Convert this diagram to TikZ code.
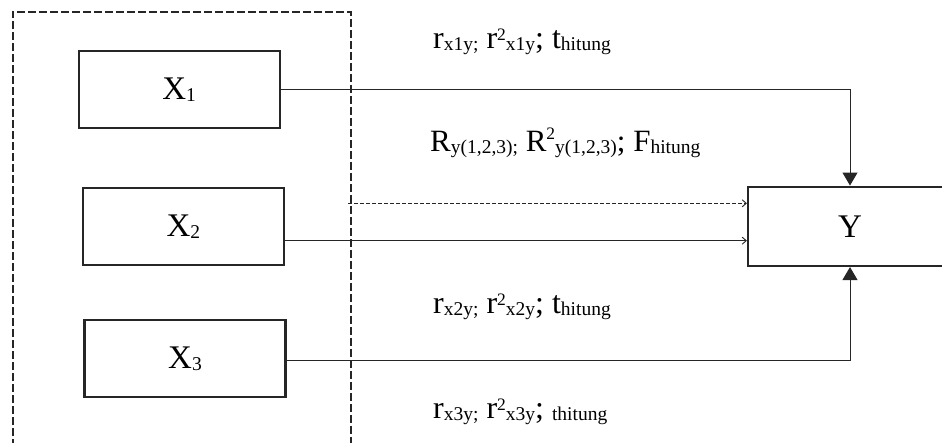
\documentclass[tikz,border=0pt]{standalone}
\usepackage{fontspec}
\setmainfont{Liberation Serif}
\usetikzlibrary{arrows.meta,calc}
\newcommand\lsub[1]{\raisebox{-2pt}{\fontsize{19.5}{19.5}\selectfont #1}}
\newcommand\lsup[2]{\raisebox{#1}{\fontsize{17.5}{17.5}\selectfont #2}}
\newcommand\mainsz{\fontsize{32}{32}\selectfont}
\begin{document}
\begin{tikzpicture}[x=1pt,y=1pt,
  varbox/.style={draw=black!85, line width=2.2pt, minimum width=201pt, minimum height=77pt, inner sep=0pt, font=\fontsize{33}{33}\selectfont},
  conn/.style={line width=1pt, draw=black!85},
  bigtip/.style={-{Triangle[width=15pt,length=13pt]}},
  smalltip/.style={-{Straight Barb[length=4pt,width=7pt,line width=0.9pt]}},
  lbl/.style={anchor=base west, inner sep=0pt}
]
\useasboundingbox (0,0) rectangle (942,442);
% dashed frame
\coordinate (fbl) at (12.7,-5);
\coordinate (ftl) at (12.7,430.3);
\coordinate (ftr) at (350.7,430.3);
\coordinate (fbr) at (350.7,-5);
\draw[line width=1.8pt, draw=black!85, dash pattern=on 8pt off 3pt] (fbl) -- (ftl) -- (ftr) -- (fbr);
% boxes
\node[varbox] (X1) at (179.2,352.8) {X\lsub{1}};
\node[varbox] (X2) at (183.3,215.5) {X\lsub{2}};
\node[varbox] (X3) at (185,83.3) {X\lsub{3}};
\node[varbox, minimum width=204pt, minimum height=79.3pt] (Y) at (850,215.7) {Y};
% connectors
\draw[conn,bigtip] (X1.east) -| (Y.north);
\draw[conn,bigtip] ([yshift=-1.3pt]X3.east) -| (Y.south);
\draw[conn,smalltip] ([yshift=-14.2pt]X2.east) -- ([yshift=-14.2pt]X2.east -| Y.west);
\coordinate (dstart) at (348,238.7);
\draw[line width=1pt, draw=black!85, dash pattern=on 4pt off 2pt, smalltip] (dstart) -- (dstart -| Y.west);
% labels
\node[lbl] (l1) at (433,393.7) {\mainsz r\lsub{x1y;} r\lsup{7.7pt}{2}\lsub{x1y};\ t\lsub{hitung}};
\node[lbl] (l2) at (430,290.3) {\fontsize{31}{31}\selectfont R\lsub{y(1,2,3);} R\lsup{11.7pt}{2}\lsub{y(1,2,3)}; F\lsub{hitung}};
\node[lbl] (l3) at (433,128.7) {\mainsz r\lsub{x2y;} r\lsup{7.7pt}{2}\lsub{x2y};\ t\lsub{hitung}};
\node[lbl] (l4) at (433,23.7) {\mainsz r\lsub{x3y;} r\lsup{7.7pt}{2}\lsub{x3y};\ \lsub{thitung}};
\end{tikzpicture}
\end{document}
